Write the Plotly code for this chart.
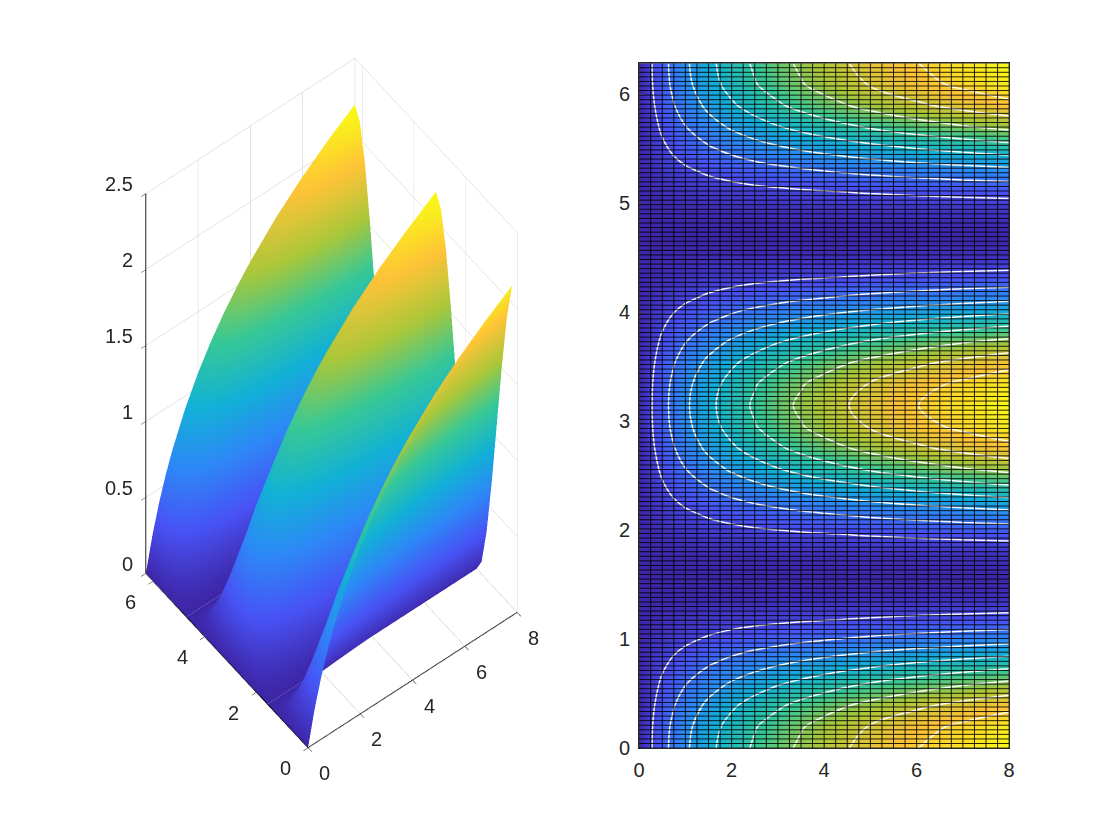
import numpy as np
import plotly.graph_objects as go

# Values
x_vals = [0, 0.25, 0.5, 0.75, 1, 1.5, 2, 2.5, 3, 3.5, 4, 5, 6, 7, 8]
y_vals = [0, .196, .393, .589, .785, .982, 1.178, 1.374, 1.571, 1.767, 1.963, 2.160, 2.356, 2.553, 2.749, 2.945,
          3.142, 3.338, 3.534, 3.731, 3.927, 4.123, 4.320, 4.516, 4.712, 4.909, 5.105, 5.301, 5.498, 5.694, 5.890, 6.087, 6.283]
r0 = [0, .223, .405, .560, .693, .916, 1.099, 1.253, 1.386, 1.504, 1.609, 1.792, 1.946, 2.079, 2.197]
r1 = [0, .215, .390, .539, .667, .881, 1.057, 1.205, 1.333, 1.447, 1.548, 1.724, 1.872, 2.000, 2.114]
r2 = [0, .190, .346, .478, .592, .782, .939, 1.070, 1.184, 1.284, 1.374, 1.530, 1.662, 1.775, 1.876]
r3 = [0, .154, .280, .387, .479, .633, .759, .866, .958, 1.039, 1.112, 1.238, 1.345, 1.437, 1.518]
r4 = [0, .112, .203, .280, .347, .458, .550, .627, .693, .752, .805, .896, .973, 1.040, 1.099]
r5 = [0, .069, .125, .173, .214, .283, .340, .387, .428, .465, .497, .554, .601, .642, .679]
r6 = [0, .033, .059, .082, .101, .134, .160, .183, .202, .220, .235, .262, .284, .304, .321]
r7 = [0, .008, .015, .021, .026, .035, .042, .048, .053, .057, .061, .068, .074, .079, .083]
r8 = [0] * 15
z_rows = [r0, r1, r2, r3, r4, r5, r6, r7, r8, r7, r6, r5, r4, r3, r2, r1,
          r0, r1, r2, r3, r4, r5, r6, r7, r8, r7, r6, r5, r4, r3, r2, r1, r0]

contour_start, contour_end, contour_step = 0.244, 1.96, 0.244
x_ticks = [0, 2, 4, 6, 8]
y_ticks = [0, 1, 2, 3, 4, 5, 6]
y_ticks_3d = [0, 2, 4, 6]
z_ticks = [0, 0.5, 1, 1.5, 2, 2.5]
mesh_x = np.arange(0, 8.01, 0.25)
mesh_y = np.linspace(0, 6.283, 151)
y_end = 6.283

parula = [[0, "rgb(62,38,168)"], [1/7, "rgb(72,82,244)"], [2/7, "rgb(46,135,247)"], [3/7, "rgb(18,177,214)"],
          [4/7, "rgb(55,200,151)"], [5/7, "rgb(171,199,57)"], [6/7, "rgb(254,195,56)"], [1, "rgb(249,251,21)"]]

W, H = 1120, 840
FONT = dict(family="Liberation Sans, Arial, sans-serif", size=20, color="#262626")
zmax = 2.197

fig = go.Figure()
fig.add_trace(go.Surface(x=x_vals, y=y_vals, z=z_rows, colorscale=parula, cmin=0, cmax=zmax, showscale=False,
                         lighting=dict(ambient=1, diffuse=0, specular=0, roughness=1, fresnel=0),
                         hoverinfo="skip"))
fig.add_trace(go.Heatmap(x=x_vals, y=y_vals, z=z_rows, colorscale=parula, zmin=0, zmax=zmax, zsmooth="best",
                         showscale=False, hoverinfo="skip", xaxis="x", yaxis="y"))

lx, ly = [], []
for v in mesh_x:
    lx += [v, v, None]; ly += [0, y_end, None]
for v in mesh_y:
    lx += [0, 8, None]; ly += [v, v, None]
fig.add_trace(go.Scatter(x=lx, y=ly, mode="lines", line=dict(color="rgba(0,0,0,0.85)", width=1),
                         hoverinfo="skip", showlegend=False, xaxis="x", yaxis="y"))
fig.add_trace(go.Contour(x=x_vals, y=y_vals, z=z_rows, showscale=False, hoverinfo="skip",
                         contours=dict(coloring="none", start=contour_start, end=contour_end, size=contour_step),
                         line=dict(color="rgba(255,255,255,0.95)", width=1.5, smoothing=1), xaxis="x", yaxis="y"))

sa, ca, se, ce = 0.613, 0.790, 0.834, 0.552
EYE = 2.0
SC = 0.67
ax3 = dict(showbackground=False, showgrid=True, gridcolor="#c8c8c8", gridwidth=1, zeroline=False,
           showline=True, linecolor="#000000", linewidth=2, ticks="outside", ticklen=6, tickcolor="#262626",
           showticklabels=False, title=dict(text=""), showspikes=False, tickmode="array")
cx, cy = 329.5, 408
notes = []
for v in x_ticks:
    notes.append(dict(x=v, y=0, z=0, text=str(v), showarrow=False, font=FONT, xanchor="center", yanchor="middle",
                      xshift=16, yshift=-26))
for v in y_ticks_3d:
    notes.append(dict(x=0, y=v, z=0, text=str(v), showarrow=False, font=FONT, xanchor="center", yanchor="middle",
                      xshift=-23, yshift=-21))
for v in z_ticks:
    notes.append(dict(x=0, y=y_end, z=v, text=str(v), showarrow=False, font=FONT, xanchor="right", yanchor="middle",
                      xshift=-11, yshift=9))
fig.update_layout(
    width=W, height=H, margin=dict(l=0, r=0, t=0, b=0), paper_bgcolor="white", plot_bgcolor="white",
    showlegend=False,
    scene=dict(
        domain=dict(x=[(cx - 325) / W, (cx + 325) / W],
                    y=[1 - (cy + 400) / H, 1 - (cy - 400) / H]),
        aspectmode="manual", aspectratio=dict(x=SC, y=SC, z=2.6 * SC),
        camera=dict(projection=dict(type="orthographic"), up=dict(x=0, y=0, z=1), center=dict(x=0, y=0, z=0),
                    eye=dict(x=-sa * ce * EYE, y=-ca * ce * EYE, z=se * EYE)),
        xaxis=dict(ax3, range=[0, 8], tickvals=x_ticks),
        yaxis=dict(ax3, range=[0, y_end], tickvals=y_ticks_3d + [y_end]),
        zaxis=dict(ax3, range=[0, 2.5], tickvals=z_ticks),
        annotations=notes,
    ),
    xaxis=dict(domain=[640 / W, 1014 / W], range=[0, 8], tickvals=x_ticks, tickfont=FONT, ticks="inside", ticklen=4,
               ticklabelstandoff=4, showgrid=False, zeroline=False, showline=True, mirror=True, linecolor="#262626"),
    yaxis=dict(domain=[1 - 758 / H, 1 - 64 / H], range=[0, y_end], tickvals=y_ticks, tickfont=FONT, ticks="inside", ticklen=4,
               ticklabelstandoff=4, showgrid=False, zeroline=False, showline=True, mirror=True, linecolor="#262626"),
)
fig.write_html("out.html", config=dict(displayModeBar=False),
               post_script="document.body.style.margin='0';document.documentElement.style.overflow='hidden';")
